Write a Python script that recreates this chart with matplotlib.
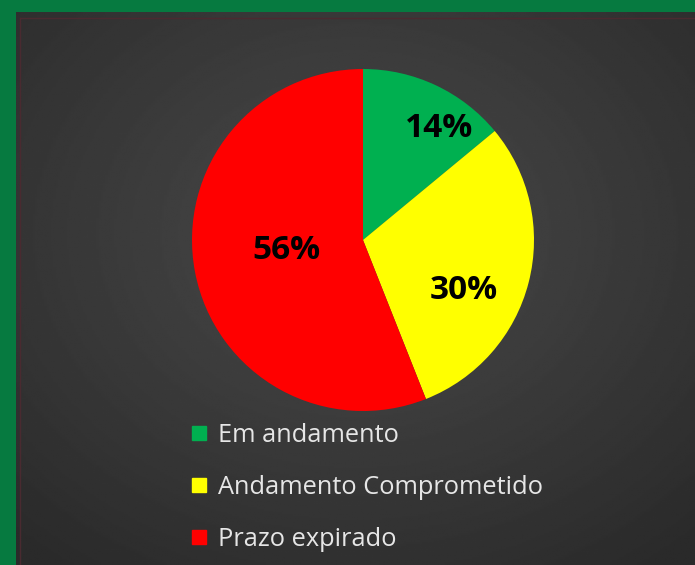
import matplotlib.pyplot as plt
import numpy as np
from matplotlib.lines import Line2D

labels = ["Em andamento", "Andamento Comprometido", "Prazo expirado"]
values = [14, 30, 56]
colors = ["#00b050", "#ffff00", "#ff0000"]

W, H = 695, 565
fig = plt.figure(figsize=(W / 100, H / 100), dpi=100, facecolor="#067a40")

# dark panel with a soft radial gradient
bg = fig.add_axes([16 / W, 0, 1 - 16 / W, 1 - 12 / H])
yy, xx = np.mgrid[0:1:300j, 0:1:300j]
r = np.sqrt(((xx - 0.5) / 0.9) ** 2 + ((yy - 0.4) / 0.9) ** 2)
shade = np.clip(0.29 - 0.15 * r, 0.165, 0.3)
bg.imshow(shade, cmap="gray", vmin=0, vmax=1, extent=[0, 1, 0, 1],
          aspect="auto", origin="upper")
bg.plot([0.006, 0.006], [0, 0.99], color="#4a2a30", lw=1)
bg.plot([0.006, 1], [0.99, 0.99], color="#4a2a30", lw=1)
bg.set_xlim(0, 1)
bg.set_ylim(0, 1)
bg.axis("off")

# pie
size = 342
ax = fig.add_axes([(363 - size / 2) / W, 1 - (240 + size / 2) / H, size / W, size / H])
wedges, _ = ax.pie(values, colors=colors, startangle=90, counterclock=False,
                   wedgeprops=dict(linewidth=0))
ax.set_aspect("equal")
ax.set_xlim(-1, 1)
ax.set_ylim(-1, 1)

# percentage labels, placed relative to each wedge's middle angle
label_r = [0.79, 0.66, 0.45]
label_shift = [-9, -12, -3]
for w, v, lr, sh in zip(wedges, values, label_r, label_shift):
    ang = np.deg2rad((w.theta1 + w.theta2) / 2 + sh)
    ax.text(lr * np.cos(ang), lr * np.sin(ang), f"{v}%", ha="center", va="center",
            fontsize=24, fontweight="bold", family="Open Sans", color="black")

handles = [Line2D([], [], marker="s", linestyle="none", markersize=9.5,
                  markerfacecolor=c, markeredgecolor=c) for c in colors]
leg = fig.legend(handles, labels, loc="upper left", bbox_to_anchor=(168 / W, 1 - 400 / H),
                 frameon=False, labelcolor="#e6e6e6", handlelength=0.6,
                 handletextpad=0.45, labelspacing=1.07,
                 prop={"family": "Open Sans", "size": 18.3})

fig.savefig("out.png", dpi=100, facecolor=fig.get_facecolor())
